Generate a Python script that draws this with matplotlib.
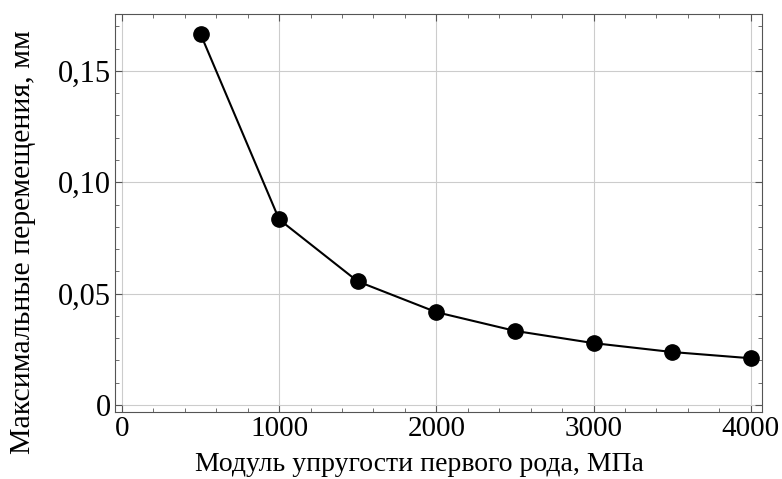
import matplotlib.pyplot as plt
from matplotlib.ticker import MultipleLocator, FuncFormatter

modulus = [500, 1000, 1500, 2000, 2500, 3000, 3500, 4000]
displacement = [0.1665, 0.0833, 0.0555, 0.0417, 0.0333, 0.0278, 0.0238, 0.0210]

plt.rcParams['font.family'] = 'Liberation Serif'

fig, ax = plt.subplots(figsize=(7.82, 4.79), dpi=100)
fig.subplots_adjust(left=0.147, right=0.975, top=0.971, bottom=0.14)

ax.plot(modulus, displacement, color='black', lw=1.5, marker='o',
        markersize=11, markerfacecolor='black')

ax.set_xlim(-45, 4075)
ax.set_ylim(-0.0031, 0.1756)

ax.xaxis.set_major_locator(MultipleLocator(1000))
ax.xaxis.set_minor_locator(MultipleLocator(200))
ax.yaxis.set_major_locator(MultipleLocator(0.05))
ax.yaxis.set_minor_locator(MultipleLocator(0.01))


def yfmt(v, pos):
    if abs(v) < 1e-9:
        return '0'
    return f'{v:.2f}'.replace('.', ',')


ax.yaxis.set_major_formatter(FuncFormatter(yfmt))
ax.tick_params(which='both', direction='in', top=True, right=True,
               labelsize=21, color='#555555')
ax.tick_params(which='major', length=5, pad=3)
ax.tick_params(which='minor', length=3)
ax.tick_params(axis='y', labelsize=22)
ax.grid(True, which='major', color='#cccccc', lw=0.8)
for s in ax.spines.values():
    s.set_color('#555555')

ax.set_xlabel('Модуль упругости первого рода, МПа', fontsize=20)
ax.set_ylabel('Максимальные перемещения, мм', fontsize=21.5)
ax.xaxis.set_label_coords(0.471, -0.1)
ax.yaxis.set_label_coords(-0.122, 0.427)

fig.savefig('out.png')
